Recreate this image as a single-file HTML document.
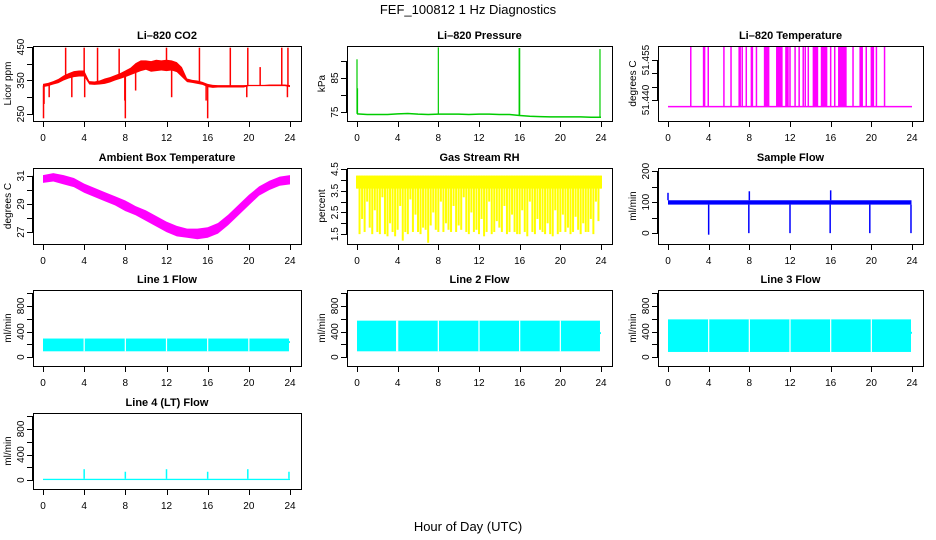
<!DOCTYPE html>
<html><head><meta charset="utf-8"><style>
html,body{margin:0;padding:0;background:#fff;}
svg{display:block;font-family:"Liberation Sans",sans-serif;}
</style></head><body>
<svg id="chart" width="936" height="540" viewBox="0 0 936 540">
<text x="468" y="14" text-anchor="middle" font-size="13">FEF_100812  1 Hz Diagnostics</text>
<text x="468" y="531" text-anchor="middle" font-size="13">Hour of Day (UTC)</text>
</svg>
<script>
// ---- data ----
const xTicks = [0,4,8,12,16,20,24];
// CO2 band every 0.5 h
const co2Lo = [330,333,338,342,350,356,360,362,362,338,337,338,340,344,350,355,360,366,372,378,382,376,378,380,378,380,375,360,345,343,340,337,330,328,329,329,329,329,329,329,333,333,333,333,333,333,333,333,330];
const co2Hi = [340,343,348,355,365,372,378,380,380,348,347,350,356,360,366,372,380,388,402,410,410,408,412,410,412,410,405,390,356,352,350,346,340,337,336,336,336,336,336,336,337,337,337,337,338,338,338,338,336];
const co2SpikeT = [0.05,0.1,2.2,2.8,4.0,4.05,5.3,7.4,7.95,8.0,9.0,12.0,12.5,15.2,15.85,16.0,18.2,19.8,19.9,21.1,23.2,23.75,23.8,0.6];
const co2SpikeV = [237,280,448,300,448,300,448,445,290,237,320,448,300,448,290,237,448,300,448,390,448,300,448,300];
// Pressure baseline hourly
const presBase = [74.5,74.3,74.3,74.3,74.5,74.6,74.4,74.3,74.4,74.4,74.4,74.3,74.4,74.4,74.3,74.3,74.0,73.8,73.7,73.6,73.6,73.6,73.6,73.5,73.5];
const presSpikeT = [0.0,0.05,8.0,15.95,16.0,23.9];
const presSpikeV = [90.5,82.0,94.0,93.8,93.8,93.5];
// Li-820 temperature
const tempBase = 51.4375;
const tempHigh = 51.4603;
const tempSpikeT = [2.24,3.5,3.6,3.96,5.5,6.2,7.0,7.1,7.3,7.7,8.2,8.3,8.7,9.5,9.6,9.7,9.8,9.9,10.7,10.8,10.9,11.0,11.1,11.2,11.6,11.7,11.8,12.0,12.5,12.9,13.3,13.5,13.8,14.3,14.4,14.5,14.6,14.7,15.1,15.2,15.3,15.4,15.5,15.6,16.0,16.4,16.8,16.9,17.0,17.1,17.2,17.3,17.4,17.5,18.2,18.9,19.0,19.1,19.5,20.0,20.1,20.2,20.5,21.3];
// Ambient box temperature hourly band
const ambLo = [30.5,30.6,30.4,30.2,29.8,29.5,29.2,28.9,28.5,28.2,27.8,27.4,27.0,26.7,26.6,26.5,26.6,26.9,27.5,28.2,28.9,29.6,30.0,30.3,30.4];
const ambHi = [31.05,31.2,31.05,30.85,30.45,30.15,29.85,29.55,29.25,28.85,28.55,28.15,27.75,27.45,27.25,27.25,27.35,27.65,28.25,28.95,29.65,30.25,30.65,30.95,31.05];
// Gas stream RH lows (every 0.25 h), band top
const rhTop = 4.2;
const rhLows = [3.6,1.5,2.2,1.6,3.0,1.8,1.5,2.6,1.6,1.5,3.2,1.5,1.4,2.0,1.6,1.4,1.7,2.8,1.2,1.6,1.5,3.1,1.6,2.4,1.6,1.5,1.8,1.7,1.1,1.9,2.5,1.7,1.6,3.0,1.6,2.0,1.7,1.6,2.8,1.6,1.9,1.7,3.2,1.6,1.5,2.5,1.6,1.7,1.5,2.2,1.4,1.6,3.0,1.5,1.6,2.1,1.8,1.6,2.8,1.5,1.6,2.4,1.6,1.5,1.5,2.6,1.6,1.4,3.0,1.6,1.5,2.2,1.7,1.6,1.5,2.0,1.5,1.4,2.6,1.5,1.6,2.4,1.6,1.8,1.5,1.6,2.3,1.7,1.5,2.0,1.6,1.6,2.2,1.5,3.0,2.1,3.6];
// Sample flow
const sampLo = 92, sampHi = 106;
const sampDropT = [4.0,7.95,12.0,15.95,19.85,23.9];
const sampDropV = [-5,0,0,0,0,0];
const sampSpikeT = [0.0,8.0,16.0];
const sampSpikeV = [130,135,138];
// Line flows
const l1Lo = 90, l1Hi = 290, l1Gaps = [4.0,8.0,12.0,16.0,20.0];
const l2Lo = 90, l2Hi = 570, l2Gaps = [3.9,4.0,8.0,12.0,16.0,20.0];
const l3Lo = 80, l3Hi = 590, l3Gaps = [4.0,8.0,12.0,16.0,20.0];
const l4Lo = 0, l4Hi = 20;
const l4SpikeT = [4.0,8.0,12.0,16.0,19.9,23.9];
const l4SpikeV = [170,130,170,130,170,130];

// ---- layout ----
const colX = [[33,301],[347,612],[658,923]];
const rowY = [[46,121],[168,244],[290,366],[413,489]];
const svg = document.getElementById('chart');
const NS = 'http://www.w3.org/2000/svg';
function mk(tag, attrs, parent){const e=document.createElementNS(NS,tag);for(const k in attrs)e.setAttribute(k,attrs[k]);(parent||svg).appendChild(e);return e;}

const panels = [
 {key:'co2',title:'Li–820 CO2',c:0,r:0,ylab:'Licor ppm',ylo:229,yhi:453,yt:[250,300,350,400,450],yl:['250','350','450']},
 {key:'pressure',title:'Li–820 Pressure',c:1,r:0,ylab:'kPa',ylo:72.4,yhi:94.4,yt:[75,80,85,90],yl:['75','85']},
 {key:'temperature',title:'Li–820 Temperature',c:2,r:0,ylab:'degrees C',ylo:51.4321,yhi:51.4603,yt:[51.440,51.445,51.450,51.455],yl:['51.440','51.455'],ylv:[51.440,51.455]},
 {key:'ambient',title:'Ambient Box Temperature',c:0,r:1,ylab:'degrees C',ylo:26.16,yhi:31.56,yt:[27,28,29,30,31],yl:['27','29','31']},
 {key:'rh',title:'Gas Stream RH',c:1,r:1,ylab:'percent',ylo:1.045,yhi:4.55,yt:[1.5,2,2.5,3,3.5,4,4.5],yl:['1.5','2.5','3.5','4.5']},
 {key:'sample-flow',title:'Sample Flow',c:2,r:1,ylab:'ml/min',ylo:-35,yhi:210,yt:[0,50,100,150,200],yl:['0','100','200']},
 {key:'line1',title:'Line 1 Flow',c:0,r:2,ylab:'ml/min',ylo:-140,yhi:1050,yt:[0,200,400,600,800,1000],yl:['0','400','800']},
 {key:'line2',title:'Line 2 Flow',c:1,r:2,ylab:'ml/min',ylo:-140,yhi:1050,yt:[0,200,400,600,800,1000],yl:['0','400','800']},
 {key:'line3',title:'Line 3 Flow',c:2,r:2,ylab:'ml/min',ylo:-140,yhi:1050,yt:[0,200,400,600,800,1000],yl:['0','400','800']},
 {key:'line4',title:'Line 4 (LT) Flow',c:0,r:3,ylab:'ml/min',ylo:-140,yhi:1050,yt:[0,200,400,600,800,1000],yl:['0','400','800']}
];

function axes(p){
  const [x0,x1]=colX[p.c],[y0,y1]=rowY[p.r];
  const g=mk('g',{});
  
  
  const X=t=>x0+10+t/24*(x1-x0-21);
  const Y=v=>y1-(v-p.ylo)/(p.yhi-p.ylo)*(y1-y0);
  const t=mk('text',{x:(x0+x1)/2,y:y0-7,'text-anchor':'middle','font-size':11,'font-weight':'bold'},g);
  t.textContent=p.title;
  
  
  const plot=mk('g',{},g);
  
  
  const box=mk('rect',{x:x0+.5,y:y0+.5,width:x1-x0,height:y1-y0,fill:'none',stroke:'#000'},g);
  
  
  const xa=mk('g',{},g);
  
  
  mk('line',{x1:X(0),x2:X(24),y1:y1+.5,y2:y1+.5,stroke:'#000'},xa);
  xTicks.forEach(v=>{
    const tk=mk('line',{x1:Math.round(X(v))+.5,x2:Math.round(X(v))+.5,y1:y1,y2:y1+6,stroke:'#000'},xa);
    
    
    const lb=mk('text',{x:X(v),y:y1+20,'text-anchor':'middle','font-size':10},xa);
    lb.textContent=v;
    
    
  });
  const ya=mk('g',{},g);
  
  
  mk('line',{x1:x0-0.5,x2:x0-0.5,y1:Y(p.yt[0]),y2:Y(p.yt[p.yt.length-1]),stroke:'#000'},ya);
  p.yt.forEach(v=>{
    const tk=mk('line',{x1:x0-6,x2:x0,y1:Math.round(Y(v))+.5,y2:Math.round(Y(v))+.5,stroke:'#000'},ya);
    
    
  });
  p.yl.forEach((s,i)=>{
    const v=p.ylv?p.ylv[i]:parseFloat(s);
    const lb=mk('text',{x:0,y:0,'text-anchor':'middle','font-size':10,transform:`translate(${x0-9},${Y(v)}) rotate(-90)`},ya);
    lb.textContent=s;
    
    
  });
  const yt=mk('text',{x:0,y:0,'text-anchor':'middle','font-size':10,transform:`translate(${x0-22},${(y0+y1)/2}) rotate(-90)`},ya);
  yt.textContent=p.ylab;
  
  
  return {X,Y,plot};
}
function band(ax,lo,hi,color,name){
  const n=lo.length;let pts=[];
  for(let i=0;i<n;i++)pts.push(ax.X(i*24/(n-1))+','+ax.Y(hi[i]));
  for(let i=n-1;i>=0;i--)pts.push(ax.X(i*24/(n-1))+','+ax.Y(lo[i]));
  const e=mk('polygon',{points:pts.join(' '),fill:color,stroke:'none'},ax.plot);
  
  
}
function vline(ax,t,a,b,color,name,w){
  const e=mk('line',{x1:ax.X(t),x2:ax.X(t),y1:ax.Y(a),y2:ax.Y(b),stroke:color,'stroke-width':w||1.2},ax.plot);
  
  
}
function rect(ax,t0,t1,a,b,color,name){
  const e=mk('rect',{x:ax.X(t0),y:ax.Y(b),width:ax.X(t1)-ax.X(t0),height:ax.Y(a)-ax.Y(b),fill:color},ax.plot);
  
  
}

// CO2
let a=axes(panels[0]);
band(a,co2Lo,co2Hi,'#ff0000','co2-band');
co2SpikeT.forEach((t,i)=>{vline(a,t,(co2Lo[Math.round(t*2)]+co2Hi[Math.round(t*2)])/2,co2SpikeV[i],'#ff0000','co2-spike',1.5);});
// Pressure
a=axes(panels[1]);
{const pts=presBase.map((v,i)=>a.X(i)+','+a.Y(v)).join(' ');
 const e=mk('polyline',{points:pts,fill:'none',stroke:'#00cc00','stroke-width':1.5},a.plot);
 
 }
presSpikeT.forEach((t,i)=>vline(a,t,presBase[Math.round(t)],presSpikeV[i],'#00cc00','pressure-spike',1.2));
// Temperature
a=axes(panels[2]);
{const e=mk('line',{x1:a.X(0),x2:a.X(24),y1:a.Y(tempBase),y2:a.Y(tempBase),stroke:'#ff00ff','stroke-width':1.5},a.plot);
 
 }
tempSpikeT.forEach(t=>vline(a,t,tempBase,tempHigh,'#ff00ff','temperature-spike',1.5));
// Ambient
a=axes(panels[3]);
band(a,ambLo,ambHi,'#ff00ff','ambient-band');
// RH
a=axes(panels[4]);
rect(a,0,24,3.6,rhTop,'#ffff00','rh-band');
rhLows.forEach((v,i)=>vline(a,i*24/(rhLows.length-1),v,rhTop,'#ffff00','rh-dip',2));
// Sample flow
a=axes(panels[5]);
rect(a,0,23.95,sampLo,sampHi,'#0000ff','sample-flow-band');
sampDropT.forEach((t,i)=>vline(a,t,sampLo,sampDropV[i],'#0000ff','sample-flow-drop',1.5));
sampSpikeT.forEach((t,i)=>vline(a,t,sampHi,sampSpikeV[i],'#0000ff','sample-flow-spike',1.5));
// Lines 1-3
[[6,l1Lo,l1Hi,l1Gaps],[7,l2Lo,l2Hi,l2Gaps],[8,l3Lo,l3Hi,l3Gaps]].forEach(([pi,lo,hi,gaps])=>{
  const ax=axes(panels[pi]);
  rect(ax,0,23.9,lo,hi,'#00ffff',panels[pi].key+'-band');
  rect(ax,23.9,24,(lo+hi)/2+30,(lo+hi)/2+60,'#00ffff',panels[pi].key+'-tail');
  gaps.forEach(t=>vline(ax,t,lo,hi,'#ffffff',panels[pi].key+'-gap',1.2));
});
// Line 4
a=axes(panels[9]);
rect(a,0,24,l4Lo,l4Hi,'#00ffff','line4-band');
l4SpikeT.forEach((t,i)=>vline(a,t,l4Hi,l4SpikeV[i],'#00ffff','line4-spike',1.5));
</script>
</body></html>
